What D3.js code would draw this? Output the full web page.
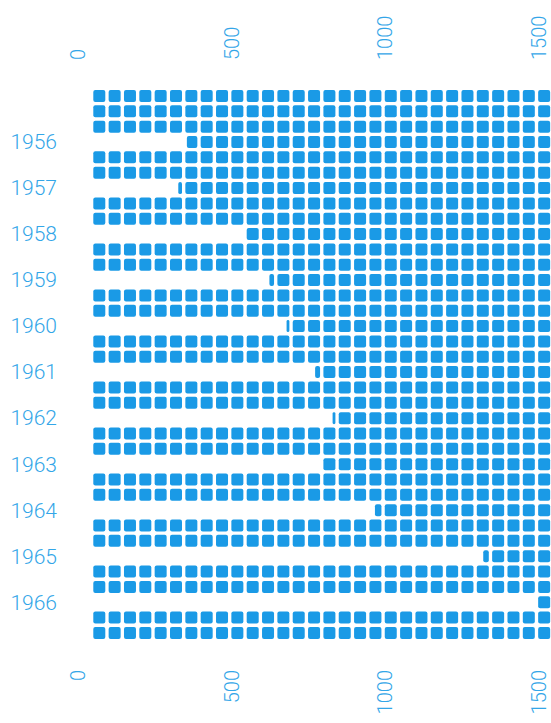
<!DOCTYPE html>
<html>
<head>
<meta charset="utf-8">
<script src="https://cdn.jsdelivr.net/npm/d3@7"></script>
<style>
  html, body { margin: 0; padding: 0; background: #fff; }
  svg { display: block; }
  text { font-family: Roboto, "Liberation Sans", sans-serif; font-weight: 300; fill: #33a6e8; }
</style>
</head>
<body>
<svg id="chart" width="551" height="723"></svg>
<script>
// data: where the white gap in each year's row ends
const years = [1956, 1957, 1958, 1959, 1960, 1961, 1962, 1963, 1964, 1965, 1966];
const values = [305, 277, 500, 574, 630, 723, 780, 744, 918, 1271, 1443];
const tickValues = [0, 500, 1000, 1500];

// constants for rendering
const BLUE = "#1a9ae6";
const unit = 50;        // each square stands for 50
const pitch = 15.34;    // distance between squares
const cell = 12;        // size of one square
const leftX = 93.3;     // x of the first column
const topY = 90;        // y of the first row

const svg = d3.select("#chart");

const x = d3.scaleLinear()
    .domain([0, 1500])
    .range([leftX, leftX + (1500 / unit) * pitch]);

// rows: three full rows on top, then for every year a cut row and two full rows
const rows = [{ cut: 0 }, { cut: 0 }, { cut: 0 }];
years.forEach((yr, i) => {
    rows.push({ cut: values[i], year: yr });
    rows.push({ cut: 0 });
    rows.push({ cut: 0 });
});

const y = d3.scaleLinear()
    .domain([0, rows.length])
    .range([topY, topY + rows.length * pitch]);

const columns = d3.range(0, 1500, unit);

// one entry per visible square (squares under the gap are clipped off)
const squares = [];
rows.forEach((r, i) => {
    columns.forEach(c => {
        const x0 = x(c);
        const x1 = x0 + cell;
        const start = Math.max(x0, x(r.cut));
        if (x1 - start > 0.5) squares.push({ row: i, x0: start, x1: x1 });
    });
});

svg.append("g")
    .selectAll("rect")
    .data(squares)
    .join("rect")
    .attr("x", d => d.x0)
    .attr("y", d => y(d.row))
    .attr("width", d => d.x1 - d.x0)
    .attr("height", cell)
    .attr("rx", d => Math.min(2, (d.x1 - d.x0) / 2))
    .attr("fill", BLUE);

// year labels, centred on their cut row
svg.append("g")
    .selectAll("text")
    .data(rows.filter(r => r.year))
    .join("text")
    .attr("x", 57)
    .attr("y", d => y(rows.indexOf(d)) + cell / 2)
    .attr("dy", "0.35em")
    .attr("text-anchor", "end")
    .attr("font-size", 21)
    .text(d => d.year);

// rotated tick labels, top and bottom
const labelShift = -15;
svg.append("g")
    .selectAll("text")
    .data(tickValues)
    .join("text")
    .attr("transform", d => `translate(${x(d) + labelShift},60) rotate(-90)`)
    .attr("dy", "0.35em")
    .attr("text-anchor", "start")
    .attr("font-size", 20)
    .text(d => d);

svg.append("g")
    .selectAll("text")
    .data(tickValues)
    .join("text")
    .attr("transform", d => `translate(${x(d) + labelShift},670) rotate(-90)`)
    .attr("dy", "0.35em")
    .attr("text-anchor", "end")
    .attr("font-size", 20)
    .text(d => d);
</script>
</body>
</html>
